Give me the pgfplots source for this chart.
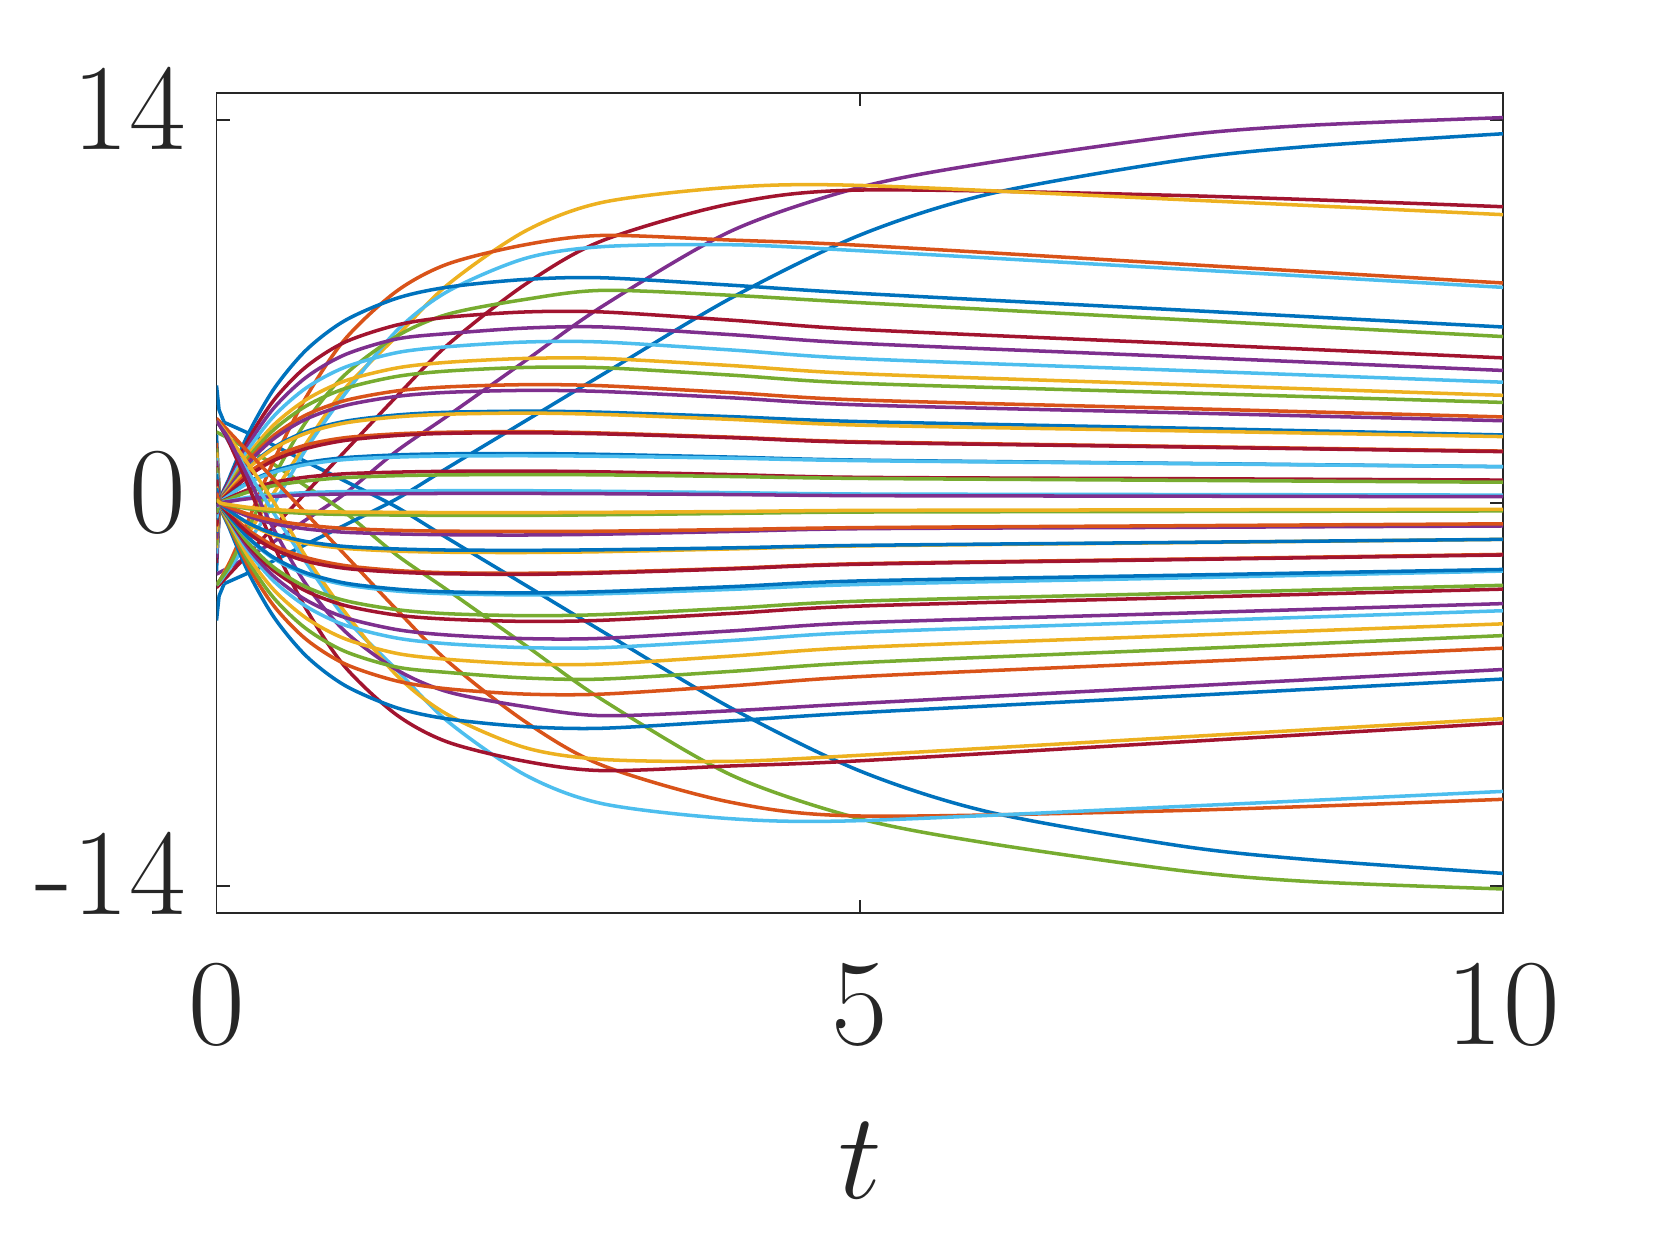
\RequirePackage{fix-cm}
\documentclass[border=0pt]{standalone}
\usepackage{pgfplots}
\usepackage{pgfplotstable}
\pgfplotsset{compat=1.18}
\definecolor{mB}{HTML}{0072BD}
\definecolor{mO}{HTML}{D95319}
\definecolor{mY}{HTML}{EDB120}
\definecolor{mP}{HTML}{7E2F8E}
\definecolor{mG}{HTML}{77AC30}
\definecolor{mL}{HTML}{4DBEEE}
\definecolor{mR}{HTML}{A2142F}
\definecolor{axgray}{HTML}{262626}

% upper family of trajectories
\pgfplotstableread{
t    a3    a4    a5    a6    a7    a8    a9    a10   a11   a12   a13   a14   a15   a16   a17   a18   a19   a20   a21   a22   a23   a24   a25
0    -3.1  -3.0  -3.0  -3.0  -2.5  -3.0  -2.2  -2.0  -1.85 -1.65 -1.55 -1.35 -1.3  -1.1  -1.05 -0.85 -0.85 -0.6  -0.55 -0.4  -0.35 -0.15 -0.12
0.03 -2.95 -2.8  -2.8  -2.85 0.0   -2.8  0.0   0.0   0.0   0.0   0.0   0.0   0.0   0.0   0.0   0.0   0.0   0.0   0.0   0.0   0.0   0.0   0.0
0.1  -2.6  -2.2  -2.2  -2.4  0.92  -2.3  0.84  0.78  0.71  0.64  0.60  0.57  0.55  0.49  0.48  0.37  0.42  0.29  0.28  0.19  0.15  0.08  0.06
0.25 -1.85 -1.1  -0.6  -1.4  2.56  -0.9  2.34  2.16  1.98  1.78  1.67  1.56  1.48  1.31  1.28  1.0   1.11  0.77  0.74  0.49  0.41  0.21  0.16
0.45 -0.85 0.4   1.6   0.0   4.2   1.0   3.79  3.50  3.20  2.88  2.70  2.49  2.37  2.05  2.01  1.57  1.70  1.18  1.13  0.76  0.64  0.31  0.24
0.7  0.4   2.2   3.9   2.0   5.61  3.0   5.0   4.61  4.22  3.79  3.56  3.23  3.08  2.62  2.56  2.0   2.13  1.48  1.41  0.95  0.81  0.38  0.30
1    1.9   4.2   6.0   4.0   6.68  4.7   5.89  5.43  4.97  4.47  4.19  3.75  3.57  2.99  2.93  2.29  2.39  1.66  1.59  1.07  0.93  0.42  0.33
1.4  3.9   6.1   7.75  6.3   7.49  6.1   6.51  6.0   5.5   4.94  4.63  4.10  3.90  3.22  3.15  2.47  2.53  1.76  1.68  1.13  1.0   0.44  0.34
1.8  5.8   8.0   8.75  7.75  7.9   6.91  6.8   6.2   5.72  5.15  4.83  4.25  4.05  3.32  3.25  2.55  2.59  1.80  1.72  1.16  1.03  0.45  0.35
2.4  8.0   9.95  9.45  8.95  8.18  7.45  6.99  6.40  5.89  5.29  4.96  4.33  4.12  3.36  3.29  2.57  2.61  1.81  1.73  1.17  1.04  0.45  0.35
3    9.6   11.0  9.79  9.38  8.24  7.78  6.99  6.44  5.89  5.29  4.95  4.29  4.08  3.32  3.24  2.53  2.56  1.78  1.71  1.14  1.03  0.43  0.34
4    10.95 11.55 9.62  9.45  7.97  7.6   6.69  6.16  5.60  5.03  4.68  4.04  3.85  3.16  3.06  2.39  2.41  1.68  1.64  1.04  0.97  0.38  0.31
5    11.45 11.62 9.43  9.23  7.67  7.33  6.35  5.84  5.28  4.73  4.38  3.77  3.59  2.98  2.85  2.22  2.24  1.57  1.55  0.94  0.90  0.33  0.27
7.5  11.25 11.1  8.74  8.56  7.06  6.71  5.83  5.35  4.85  4.33  4.03  3.46  3.30  2.74  2.64  2.05  2.07  1.45  1.44  0.89  0.83  0.31  0.25
10   10.84 10.55 8.05  7.89  6.44  6.09  5.31  4.85  4.42  3.94  3.68  3.15  3.01  2.49  2.43  1.88  1.90  1.33  1.33  0.84  0.76  0.29  0.23
}\up

% lower family (mirror images)
\pgfplotstableread{
t    b3     b4     b5    b6    b7    b8    b9    b10   b11   b12   b13   b14   b15   b16   b17   b18   b19   b20   b21   b22   b23   b24   b25
0    3.1    3.0    3.0   3.0   2.5   3.0   2.2   2.0   1.85  1.65  1.55  1.35  1.3   1.1   1.05  0.85  0.85  0.6   0.55  0.4   0.35  0.15  0.12
0.03 2.95   2.8    2.8   2.85  0.0   2.8   0.0   0.0   0.0   0.0   0.0   0.0   0.0   0.0   0.0   0.0   0.0   0.0   0.0   0.0   0.0   0.0   0.0
0.1  2.6    2.2    2.2   2.4   -0.92 2.3   -0.84 -0.78 -0.71 -0.64 -0.60 -0.57 -0.55 -0.49 -0.48 -0.37 -0.42 -0.29 -0.28 -0.19 -0.15 -0.08 -0.06
0.25 1.85   1.1    0.6   1.4   -2.56 0.9   -2.34 -2.16 -1.98 -1.78 -1.67 -1.56 -1.48 -1.31 -1.28 -1.0  -1.11 -0.77 -0.74 -0.49 -0.41 -0.21 -0.16
0.45 0.85   -0.4   -1.6  0.0   -4.2  -1.0  -3.79 -3.50 -3.20 -2.88 -2.70 -2.49 -2.37 -2.05 -2.01 -1.57 -1.70 -1.18 -1.13 -0.76 -0.64 -0.31 -0.24
0.7  -0.4   -2.2   -3.9  -2.0  -5.61 -3.0  -5.0  -4.61 -4.22 -3.79 -3.56 -3.23 -3.08 -2.62 -2.56 -2.0  -2.13 -1.48 -1.41 -0.95 -0.81 -0.38 -0.30
1    -1.9   -4.2   -6.0  -4.0  -6.68 -4.7  -5.89 -5.43 -4.97 -4.47 -4.19 -3.75 -3.57 -2.99 -2.93 -2.29 -2.39 -1.66 -1.59 -1.07 -0.93 -0.42 -0.33
1.4  -3.9   -6.1   -7.75 -6.3  -7.49 -6.1  -6.51 -6.0  -5.5  -4.94 -4.63 -4.10 -3.90 -3.22 -3.15 -2.47 -2.53 -1.76 -1.68 -1.13 -1.0  -0.44 -0.34
1.8  -5.8   -8.0   -8.75 -7.75 -7.9  -6.91 -6.8  -6.2  -5.72 -5.15 -4.83 -4.25 -4.05 -3.32 -3.25 -2.55 -2.59 -1.80 -1.72 -1.16 -1.03 -0.45 -0.35
2.4  -8.0   -9.95  -9.45 -8.95 -8.18 -7.45 -6.99 -6.40 -5.89 -5.29 -4.96 -4.33 -4.12 -3.36 -3.29 -2.57 -2.61 -1.81 -1.73 -1.17 -1.04 -0.45 -0.35
3    -9.6   -11.0  -9.79 -9.38 -8.24 -7.78 -6.99 -6.44 -5.89 -5.29 -4.95 -4.29 -4.08 -3.32 -3.24 -2.53 -2.56 -1.78 -1.71 -1.14 -1.03 -0.43 -0.34
4    -10.95 -11.55 -9.62 -9.45 -7.97 -7.6  -6.69 -6.16 -5.60 -5.03 -4.68 -4.04 -3.85 -3.16 -3.06 -2.39 -2.41 -1.68 -1.64 -1.04 -0.97 -0.38 -0.31
5    -11.45 -11.62 -9.43 -9.23 -7.67 -7.33 -6.35 -5.84 -5.28 -4.73 -4.38 -3.77 -3.59 -2.98 -2.85 -2.22 -2.24 -1.57 -1.55 -0.94 -0.90 -0.33 -0.27
7.5  -11.25 -11.1  -8.74 -8.56 -7.06 -6.71 -5.83 -5.35 -4.85 -4.33 -4.03 -3.46 -3.30 -2.74 -2.64 -2.05 -2.07 -1.45 -1.44 -0.89 -0.83 -0.31 -0.25
10   -10.84 -10.55 -8.05 -7.89 -6.44 -6.09 -5.31 -4.85 -4.42 -3.94 -3.68 -3.15 -3.01 -2.49 -2.43 -1.88 -1.90 -1.33 -1.33 -0.84 -0.76 -0.29 -0.23
}\dn

\begin{document}
\begin{tikzpicture}
\useasboundingbox (-2.165,-3.33) rectangle (14.445,9.13);
\begin{axis}[
    scale only axis,
    width=12.865cm, height=8.2cm,
    xmin=0, xmax=10, ymin=-15, ymax=15,
    xtick={0,5,10}, xticklabels={0,5,10},
    ytick={-14,0,14}, yticklabels={-14,0,14},
    tick align=inside,
    major tick length=0.13cm,
    axis line style={draw=axgray, line width=0.5pt},
    every tick/.style={draw=axgray, line width=0.5pt},
    tick label style={font=\fontsize{35}{42}\selectfont, text=axgray, inner sep=0pt},
    xticklabel style={anchor=base, yshift=-1.31cm},
    yticklabel style={anchor=base east, xshift=-0.3cm, yshift=-0.293cm},
    xlabel={$t$},
    xlabel style={font=\fontsize{35}{42}\selectfont, text=axgray, inner sep=0pt,
        at={(axis description cs:0.5,0)}, anchor=base, yshift=-2.85cm},
    every axis plot/.append style={line width=1pt, smooth},
]
% slow trajectories
\addplot[mP] coordinates {(0,-2.6) (0.1,-2.35) (0.25,-1.95) (0.45,-1.4) (0.7,-0.6) (1,0.35) (1.4,1.9) (1.8,3.2) (2.4,5.2) (3,7.2) (4,9.95) (5,11.55) (6,12.45) (7.5,13.45) (8.5,13.82) (10,14.1)};
\addplot[mG] coordinates {(0,2.6) (0.1,2.35) (0.25,1.95) (0.45,1.4) (0.7,0.6) (1,-0.35) (1.4,-1.9) (1.8,-3.2) (2.4,-5.2) (3,-7.2) (4,-9.95) (5,-11.55) (6,-12.45) (7.5,-13.45) (8.5,-13.85) (10,-14.12)};
\addplot[mB, sharp plot] coordinates {(0,-4.3) (0.02,-3.4) (0.06,-2.95)};
\addplot[mB] coordinates {(0.06,-2.95) (0.25,-2.55) (0.45,-2.1) (0.7,-1.5) (1,-0.8) (1.4,0.15) (1.8,1.3) (2.4,3.0) (3,4.7) (4,7.5) (5,9.8) (6,11.3) (7.5,12.55) (8.5,13.05) (10,13.51)};
\addplot[mB, sharp plot] coordinates {(0,4.3) (0.02,3.4) (0.06,2.95)};
\addplot[mB] coordinates {(0.06,2.95) (0.25,2.55) (0.45,2.1) (0.7,1.5) (1,0.8) (1.4,-0.15) (1.8,-1.3) (2.4,-3.0) (3,-4.7) (4,-7.5) (5,-9.8) (6,-11.3) (7.5,-12.55) (8.5,-13.05) (10,-13.55)};
% upper family
\addplot[mR] table[x=t,y=a3]{\up};
\addplot[mY] table[x=t,y=a4]{\up};
\addplot[mO] table[x=t,y=a5]{\up};
\addplot[mL] table[x=t,y=a6]{\up};
\addplot[mB] table[x=t,y=a7]{\up};
\addplot[mG] table[x=t,y=a8]{\up};
\addplot[mR] table[x=t,y=a9]{\up};
\addplot[mP] table[x=t,y=a10]{\up};
\addplot[mL] table[x=t,y=a11]{\up};
\addplot[mY] table[x=t,y=a12]{\up};
\addplot[mG] table[x=t,y=a13]{\up};
\addplot[mO] table[x=t,y=a14]{\up};
\addplot[mP] table[x=t,y=a15]{\up};
\addplot[mB] table[x=t,y=a16]{\up};
\addplot[mY] table[x=t,y=a17]{\up};
\addplot[mO] table[x=t,y=a19]{\up};
\addplot[mR] table[x=t,y=a18]{\up};
\addplot[mB] table[x=t,y=a20]{\up};
\addplot[mL] table[x=t,y=a21]{\up};
\addplot[mR] table[x=t,y=a22]{\up};
\addplot[mG] table[x=t,y=a23]{\up};
\addplot[mL] table[x=t,y=a24]{\up};
\addplot[mP] table[x=t,y=a25]{\up};
% lower family
\addplot[mO] table[x=t,y=b3]{\dn};
\addplot[mL] table[x=t,y=b4]{\dn};
\addplot[mR] table[x=t,y=b5]{\dn};
\addplot[mY] table[x=t,y=b6]{\dn};
\addplot[mB] table[x=t,y=b7]{\dn};
\addplot[mP] table[x=t,y=b8]{\dn};
\addplot[mO] table[x=t,y=b9]{\dn};
\addplot[mG] table[x=t,y=b10]{\dn};
\addplot[mY] table[x=t,y=b11]{\dn};
\addplot[mL] table[x=t,y=b12]{\dn};
\addplot[mP] table[x=t,y=b13]{\dn};
\addplot[mR] table[x=t,y=b14]{\dn};
\addplot[mG] table[x=t,y=b15]{\dn};
\addplot[mL] table[x=t,y=b16]{\dn};
\addplot[mB] table[x=t,y=b17]{\dn};
\addplot[mO] table[x=t,y=b18]{\dn};
\addplot[mR] table[x=t,y=b19]{\dn};
\addplot[mY] table[x=t,y=b20]{\dn};
\addplot[mB] table[x=t,y=b21]{\dn};
\addplot[mP] table[x=t,y=b22]{\dn};
\addplot[mO] table[x=t,y=b23]{\dn};
\addplot[mG] table[x=t,y=b24]{\dn};
\addplot[mY] table[x=t,y=b25]{\dn};
\end{axis}
\end{tikzpicture}
\end{document}
